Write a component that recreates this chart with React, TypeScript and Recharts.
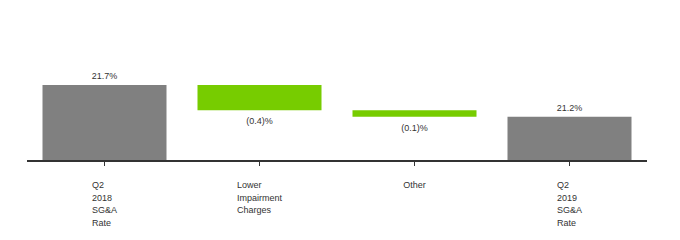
import { BarChart, Bar, XAxis, YAxis, Cell, LabelList } from 'recharts';

const categories = ['Q2 2018 SG&A Rate', 'Lower Impairment Charges', 'Other', 'Q2 2019 SG&A Rate'];
const values = [21.7, -0.4, -0.1, 21.2];
const kinds = ['total', 'change', 'change', 'total'];
const valueLabels = ['21.7%', '(0.4)%', '(0.1)%', '21.2%'];
const yDomain: [number, number] = [20.5, 22];

const FONT = '"Liberation Sans", Arial, sans-serif';

let running = 0;
const chartData = categories.map((name, i) => {
  let range: [number, number];
  if (kinds[i] === 'total') {
    range = [yDomain[0], values[i]];
    running = values[i];
  } else {
    const next = running + values[i];
    range = [Math.min(running, next), Math.max(running, next)];
    running = next;
  }
  return { name, range, kind: kinds[i], label: valueLabels[i] };
});

let ctx: CanvasRenderingContext2D | null = null;
function textWidth(s: string) {
  if (!ctx) ctx = document.createElement('canvas').getContext('2d');
  if (!ctx) return s.length * 5;
  ctx.font = `9px ${FONT}`;
  return ctx.measureText(s).width;
}

function CategoryTick({ x, y, payload }: any) {
  const lines = String(payload.value).split(' ');
  const w = Math.max(...lines.map(textWidth));
  return (
    <text x={x - w / 2} y={y} fontSize={9} fontFamily={FONT} fill="#333" textAnchor="start">
      {lines.map((l, i) => (
        <tspan key={i} x={x - w / 2} dy={i === 0 ? 20 : 12.5}>
          {l}
        </tspan>
      ))}
    </text>
  );
}

function ValueLabel({ x, y, width, height, index }: any) {
  const d = chartData[index];
  const above = d.kind === 'total';
  const ty = above ? y - 6 : y + height + 14;
  return (
    <text x={x + width / 2} y={ty} fontSize={9} fontFamily={FONT} fill="#333" textAnchor="middle">
      {d.label}
    </text>
  );
}

export default function App() {
  return (
    <div style={{ position: 'absolute', left: 0, top: 0, background: '#fff' }}>
      <BarChart
        width={680}
        height={240}
        data={chartData}
        margin={{ top: 66, right: 33, left: 27, bottom: 9 }}
        barCategoryGap="10%"
      >
        <XAxis
          dataKey="name"
          height={70}
          interval={0}
          axisLine={{ stroke: '#333', strokeWidth: 2 }}
          tickLine={{ stroke: '#333' }}
          tickSize={5}
          tick={<CategoryTick />}
        />
        <YAxis hide domain={yDomain} allowDataOverflow />
        <Bar dataKey="range" isAnimationActive={false}>
          {chartData.map((d, i) => (
            <Cell key={i} fill={d.kind === 'total' ? '#808080' : '#77cc00'} />
          ))}
          <LabelList dataKey="label" content={<ValueLabel />} />
        </Bar>
      </BarChart>
    </div>
  );
}
